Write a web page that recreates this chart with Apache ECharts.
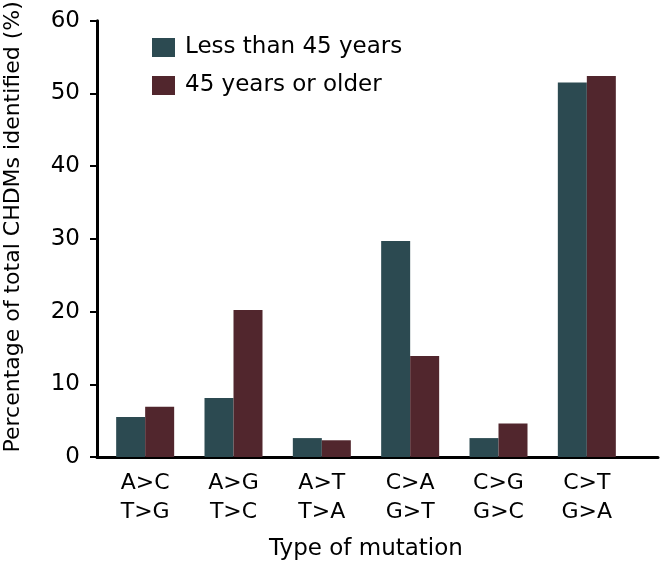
<!DOCTYPE html>
<html>
<head>
<meta charset="utf-8">
<script src="https://cdn.jsdelivr.net/npm/echarts@6/dist/echarts.min.js"></script>
<style>html,body{margin:0;padding:0;background:#fff}#c{width:660px;height:563px}</style>
</head>
<body>
<div id="c"></div>
<script>
var categories = ['A>C\nT>G', 'A>G\nT>C', 'A>T\nT>A', 'C>A\nG>T', 'C>G\nG>C', 'C>T\nG>A'];
var seriesNames = ['Less than 45 years', '45 years or older'];
var younger = [5.5, 8.1, 2.6, 29.7, 2.6, 51.5];
var older = [6.9, 20.2, 2.3, 13.9, 4.6, 52.4];
var yTicks = { min: 0, max: 60, interval: 10 };

var FONT = 'DejaVu Sans';
var FS = 23;
var chart = echarts.init(document.getElementById('c'));
chart.setOption({
  animation: false,
  backgroundColor: '#ffffff',
  textStyle: { fontFamily: FONT, color: '#000' },
  legend: {
    orient: 'vertical',
    left: 147, top: 31,
    itemWidth: 23, itemHeight: 19, itemGap: 15,
    icon: 'rect',
    textStyle: { fontFamily: FONT, fontSize: FS, color: '#000', padding: [0, 0, 0, 5] },
    data: seriesNames
  },
  grid: [
    { left: 101, right: 29, top: 20.7, bottom: 106, containLabel: false, outerBoundsMode: 'none' },
    { left: 97, right: 2, top: 20.7, bottom: 106, containLabel: false, outerBoundsMode: 'none' }
  ],
  xAxis: [
    {
      type: 'category', gridIndex: 0, data: categories,
      axisLine: { show: false },
      axisTick: { show: false },
      axisLabel: { fontFamily: FONT, fontSize: 22, color: '#000', lineHeight: 29, margin: 12 },
      name: 'Type of mutation', nameLocation: 'middle', nameGap: 81,
      nameTextStyle: { fontFamily: FONT, fontSize: 23, color: '#000' }
    },
    {
      type: 'value', gridIndex: 1, min: 0, max: 1,
      axisLine: { show: true, lineStyle: { color: '#000', width: 3 } },
      axisTick: { show: false }, axisLabel: { show: false }, splitLine: { show: false }
    }
  ],
  yAxis: [
    {
      type: 'value', gridIndex: 0, min: yTicks.min, max: yTicks.max, interval: yTicks.interval,
      offset: 4,
      axisLine: { show: true, lineStyle: { color: '#000', width: 3 } },
      axisTick: { show: true, length: 7, lineStyle: { color: '#000', width: 2 } },
      axisLabel: { fontFamily: FONT, fontSize: FS, color: '#000', margin: 17 },
      splitLine: { show: false },
      name: 'Percentage of total CHDMs identified (%)', nameLocation: 'middle', nameGap: 73,
      nameTextStyle: { fontFamily: FONT, fontSize: 22, color: '#000', padding: [0, 0, 0, 24] }
    },
    {
      type: 'value', gridIndex: 1, min: 0, max: 1, show: false
    }
  ],
  series: [
    {
      name: seriesNames[0], type: 'bar', xAxisIndex: 0, yAxisIndex: 0,
      data: younger, barWidth: 29, barGap: '0%',
      itemStyle: { color: '#2c4a51' }
    },
    {
      name: seriesNames[1], type: 'bar', xAxisIndex: 0, yAxisIndex: 0,
      data: older, barWidth: 29, barGap: '0%',
      itemStyle: { color: '#51262d' }
    }
  ]
});
</script>
</body>
</html>
